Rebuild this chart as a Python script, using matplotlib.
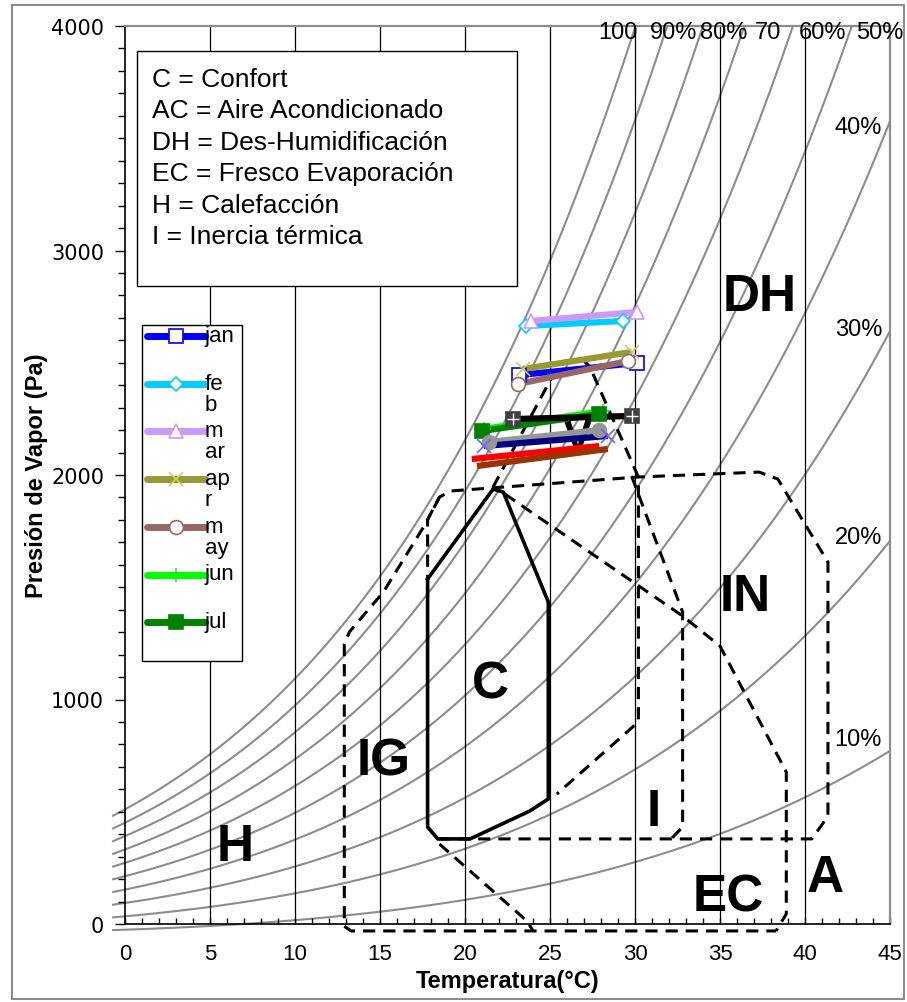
import numpy as np
import matplotlib
matplotlib.use('Agg')
import matplotlib.pyplot as plt
from matplotlib.patches import Rectangle
from matplotlib.lines import Line2D

plt.rcParams['font.family'] = ['Liberation Sans', 'DejaVu Sans']

# relative humidity levels of the psychrometric grid
rh_levels = [10, 20, 30, 40, 50, 60, 70, 80, 90, 100]

# monthly lines: (T min, P min) -> (T max, P max)
months = ['jan', 'feb', 'mar', 'apr', 'may', 'jun', 'jul', 'aug', 'sep', 'oct', 'nov', 'dec']
t_min = [23.2, 23.6, 23.9, 23.4, 23.1, 21.1, 21.0, 22.8, 21.4, 21.1, 20.4, 20.7]
p_min = [2445, 2664, 2686, 2472, 2405, 2205, 2196, 2249, 2147, 2129, 2071, 2040]
t_max = [30.1, 29.3, 30.1, 29.8, 29.6, 28.1, 27.9, 29.8, 27.9, 28.4, 27.9, 28.4]
p_max = [2499, 2686, 2726, 2548, 2508, 2285, 2272, 2263, 2200, 2174, 2129, 2116]
legend_labels = ['jan', 'fe\nb', 'm\nar', 'ap\nr', 'm\nay', 'jun', 'jul']

colors = ['#0000FF', '#00CCFF', '#CC99FF', '#999933', '#996666', '#00FF00', '#008000',
          '#000000', '#969696', '#000080', '#FF0000', '#993300']
markers = ['s', 'D', '^', 'x', 'o', '+', 's', 's', 'o', 'x', None, None]
mfcs = ['white', 'white', 'white', '#CCCC66', 'white', '#00FF00', '#008000',
        '#404040', '#969696', '#6666FF', 'none', 'none']
mecs = ['#0000FF', '#00CCFF', '#CC99FF', '#CCCC66', '#996666', '#00FF00', '#008000',
        '#404040', '#969696', '#6666FF', 'none', 'none']

# comfort zone (solid)
comfort_t = [17.8, 21.65, 22.25, 24.9, 24.9, 23.8, 20.3, 18.4, 17.8, 17.8]
comfort_p = [1537, 1937, 1924, 1434, 557, 503, 379, 379, 432, 1537]

# strategy zones (dashed)
zones = [
    ([18.4, 40.4, 41.35, 41.35, 38.4, 37.3, 30.2, 19.2, 18.5, 17.6, 15.2, 13.2, 12.9, 12.9, 13.3, 38.3],
     [379, 379, 480, 1612, 1982, 2013, 1991, 1929, 1902, 1773, 1479, 1301, 1247, -10, -31, -31]),
    ([18.5, 17.8, 17.8], [1902, 1800, 1537]),
    ([18.5, 23.65, 24.0], [356, 13, -31]),
    ([22.35, 32.8, 35.0, 38.9, 38.9, 38.3], [1915, 1372, 1238, 677, 45, -31]),
    ([29.8, 32.8, 32.8, 32.06], [1995, 1390, 432, 374]),
    ([21.65, 25.3, 25.9, 26.9, 27.35, 30.2, 30.2, 25.4], [1946, 2463, 2508, 2516, 2481, 1991, 900, 579]),
]

zone_names = ['DH', 'IN', 'C', 'IG', 'H', 'I', 'EC', 'A', 'V']
zone_t = [37.35, 36.5, 21.5, 15.2, 6.5, 31.1, 35.5, 41.2, 26.6]
zone_p = [2797, 1461, 1069, 726, 343, 499, 120, 209, 2169]

info_lines = ['C = Confort', 'AC = Aire Acondicionado', 'DH = Des-Humidificación',
              'EC = Fresco Evaporación', 'H = Calefacción', 'I = Inercia térmica']


def fxy(x, y):
    return x / 907, 1 - y / 1003


fig = plt.figure(figsize=(9.07, 10.03), dpi=100)
ax = fig.add_axes([125 / 907, 78 / 1003, 765 / 907, 898 / 1003])
ax.set_xlim(0, 45)
ax.set_ylim(0, 4000)

clip = Rectangle((-1, -200), 46, 4200, transform=ax.transData)

# psychrometric scale (saturation vapour pressure, chart's own offset)
T = np.linspace(-0.7, 45, 300)
psat = 610.94 * np.exp(17.625 * T / (T + 243.04))
for rh in rh_levels:
    p = rh / 100 * psat * 0.975 - (85 + 1.75 * T)
    ln, = ax.plot(T, p, color='#8c8c8c', lw=1.5, zorder=1)
    ln.set_clip_path(clip)

for x in range(5, 45, 5):
    ax.axvline(x, color='black', lw=0.9, zorder=1)

ax.plot(comfort_t, comfort_p, color='black', lw=2.6, solid_joinstyle='round', zorder=3)
for zt, zp in zones:
    ln, = ax.plot(zt, zp, color='black', lw=2.2, ls=(0, (4, 2.6)), zorder=3)
    ln.set_clip_path(clip)

for name, x, y in zip(zone_names, zone_t, zone_p):
    fs = 32 if name == 'V' else 37
    ax.text(x, y, name, fontsize=fs, fontweight='bold', ha='center', va='center', zorder=4)

for i in range(len(months)):
    ax.plot([t_min[i], t_max[i]], [p_min[i], p_max[i]], color=colors[i], lw=4.5,
            solid_capstyle='butt', zorder=5)
    if markers[i] is not None:
        ax.plot([t_min[i], t_max[i]], [p_min[i], p_max[i]], ls='none', marker=markers[i],
                ms=10 if markers[i] != 'D' else 7, mfc=mfcs[i], mec=mecs[i], mew=1.2, zorder=6)
    if months[i] == 'aug':
        ax.plot([t_min[i], t_max[i]], [p_min[i], p_max[i]], ls='none', marker='+',
                ms=9, mec='white', mew=1, zorder=7)

# ticks and spines
ax.set_xticks(range(0, 46, 5))
ax.set_xticks(range(0, 46), minor=True)
ax.set_yticks(range(0, 4001, 1000))
ax.set_yticks(range(0, 4001, 100), minor=True)
ax.tick_params(axis='x', which='both', direction='in', length=4, width=1, pad=14, labelsize=16)
ax.tick_params(axis='y', which='major', direction='out', length=7, width=1, pad=8, labelsize=15,
               labelfontfamily='DejaVu Sans')
ax.tick_params(axis='y', which='minor', direction='out', length=5, width=1)
for s in ['top', 'right']:
    ax.spines[s].set_color('#8c8c8c')
    ax.spines[s].set_linewidth(1.6)
for s in ['left', 'bottom']:
    ax.spines[s].set_linewidth(1.2)

ax.set_xlabel('Temperatura(°C)', fontsize=17, fontweight='bold', labelpad=3.5)
ax.set_ylabel('Presión de Vapor (Pa)', fontsize=17, fontweight='bold', labelpad=2.5)

# RH labels
top_lbl = [('100', 618), ('90%', 674), ('80%', 724), ('70', 768), ('60%', 823), ('50%', 880)]
for s, x in top_lbl:
    fig.text(*fxy(x, 33), s, fontsize=17, ha='center', va='center')
for s, y in [('40%', 128), ('30%', 330), ('20%', 538), ('10%', 740)]:
    fig.text(*fxy(882, y), s, fontsize=17, ha='right', va='center')

# info box
fig.add_artist(Rectangle(fxy(137, 287), 380 / 907, 235 / 1003, transform=fig.transFigure,
                         fc='white', ec='black', lw=1, zorder=8))
for k, s in enumerate(info_lines):
    fig.text(*fxy(152, 80 + k * 31.4), s, fontsize=19, ha='left', va='center', zorder=9)

# month legend
fig.add_artist(Rectangle(fxy(142, 662), 100 / 907, 336 / 1003, transform=fig.transFigure,
                         fc='white', ec='black', lw=1, zorder=8))
for k, lab in enumerate(legend_labels):
    y = 337 + k * 47.7
    x0, y0 = fxy(147, y)
    x1, _ = fxy(205, y)
    xm, _ = fxy(176, y)
    fig.add_artist(Line2D([x0, x1], [y0, y0], transform=fig.transFigure, color=colors[k],
                          lw=5, solid_capstyle='round', zorder=9))
    fig.add_artist(Line2D([xm], [y0], transform=fig.transFigure, ls='none', marker=markers[k],
                          ms=10 if markers[k] != 'D' else 7, mfc=mfcs[k], mec=mecs[k], mew=1.2,
                          zorder=10))
    fig.text(205 / 907, 1 - (y - 11) / 1003, lab, fontsize=16, ha='left', va='top',
             linespacing=1.0, zorder=10)

# chart border
fig.add_artist(Rectangle((12 / 907, 3 / 1003), 892 / 907, 994 / 1003, transform=fig.transFigure,
                         fc='none', ec='#8c8c8c', lw=1.5, zorder=0))

fig.savefig('out.png', dpi=100)
